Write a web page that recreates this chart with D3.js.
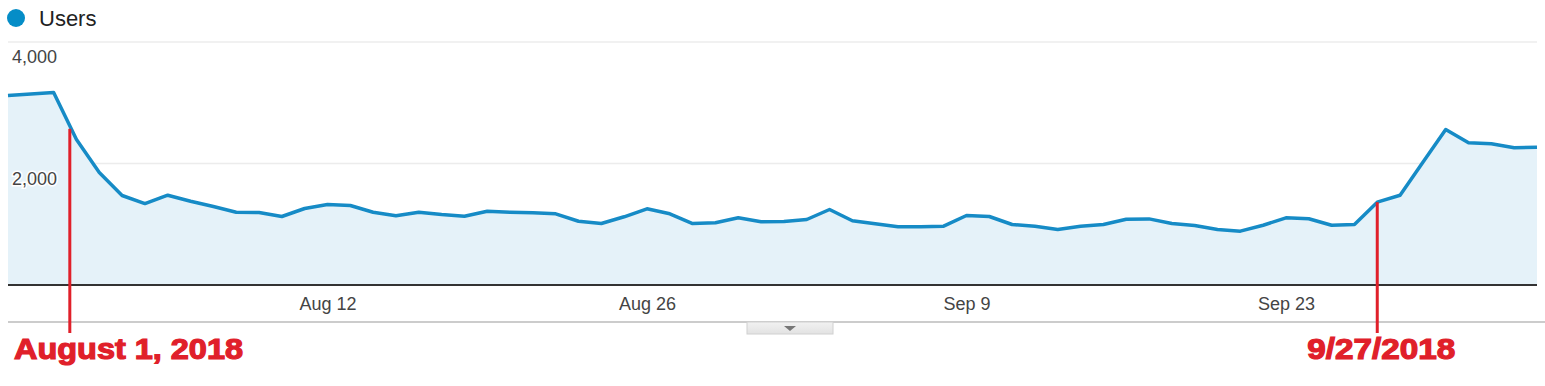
<!DOCTYPE html>
<html>
<head>
<meta charset="utf-8">
<script src="https://cdn.jsdelivr.net/npm/d3@7"></script>
<style>
  body { margin: 0; background: #fff; }
  svg { display: block; font-family: "Liberation Sans", Arial, sans-serif; }
</style>
</head>
<body>
<div id="chart"></div>
<script>
// Set up conventions
let width = 1545;
let height = 386;
let margin = ({top: 42, right: 8, bottom: 101, left: 8});

// daily users, Jul 29 2018 -> Oct 4 2018
let startDate = new Date(2018, 6, 29);
let users = [
    3119, 3144, 3169,
    2395, 1852, 1473, 1341, 1478, 1379, 1292, 1198, 1193, 1128, 1259, 1325, 1309, 1198,
    1140, 1198, 1160, 1132, 1215, 1198, 1188, 1172, 1050, 1012, 1123, 1254, 1172, 1012,
    1024, 1106, 1040,
    1045, 1078, 1243, 1057, 1007, 958, 958, 968, 1144, 1128, 996, 968, 914, 968, 996,
    1083, 1088, 1012, 979, 914, 886, 984, 1106, 1090, 984, 996, 1363, 1478, 2020, 2560,
    2341, 2324, 2258, 2268
];
let seriesName = "Users";
let yTicks = [2000, 4000];
let xTickDates = [new Date(2018, 7, 12), new Date(2018, 7, 26), new Date(2018, 8, 9), new Date(2018, 8, 23)];

// red annotations
let noteLabels = ["August 1, 2018", "9/27/2018"];
let noteDates = [new Date(2018, 6, 31, 17), new Date(2018, 8, 27)];

let data = users.map((v, i) => ({date: d3.timeDay.offset(startDate, i), value: v}));

let svg = d3.select("#chart")
    .append("svg")
    .attr("width", width)
    .attr("height", height);

let xScale = d3.scaleTime()
    .domain(d3.extent(data, d => d.date))
    .range([margin.left, width - margin.right]);

let yScale = d3.scaleLinear()
    .domain([0, 4000])
    .range([height - margin.bottom, margin.top]);

let fmt = d3.format(",");

// legend
svg.append("circle")
    .attr("cx", 16).attr("cy", 18).attr("r", 9)
    .attr("fill", "#058dc7");
svg.append("text")
    .attr("x", 39).attr("y", 26)
    .attr("font-size", 22)
    .attr("fill", "#222")
    .text(seriesName);

// gridlines
svg.append("g")
    .selectAll("line")
    .data(yTicks)
    .enter()
    .append("line")
    .attr("x1", margin.left)
    .attr("x2", width - margin.right)
    .attr("y1", d => yScale(d))
    .attr("y2", d => yScale(d))
    .attr("stroke", "#ececec")
    .attr("stroke-width", 1.5);

// area + line
let area = d3.area()
    .x(d => xScale(d.date))
    .y0(yScale(0))
    .y1(d => yScale(d.value));

let line = d3.line()
    .x(d => xScale(d.date))
    .y(d => yScale(d.value));

svg.append("path")
    .datum(data)
    .attr("d", area)
    .attr("fill", "#e5f2f9");

svg.append("path")
    .datum(data)
    .attr("d", line)
    .attr("fill", "none")
    .attr("stroke", "#168bc6")
    .attr("stroke-width", 3.5)
    .attr("stroke-linejoin", "round");

// y labels (inside the plot, with white halo)
svg.append("g")
    .selectAll("text")
    .data(yTicks)
    .enter()
    .append("text")
    .attr("x", 12)
    .attr("y", d => yScale(d) + 21)
    .attr("font-size", 18)
    .attr("fill", "#444")
    .attr("stroke", "#fff")
    .attr("stroke-width", 3)
    .attr("paint-order", "stroke")
    .text(d => fmt(d));

// x axis baseline
svg.append("line")
    .attr("x1", margin.left)
    .attr("x2", width - margin.right)
    .attr("y1", yScale(0))
    .attr("y2", yScale(0))
    .attr("stroke", "#333")
    .attr("stroke-width", 2);

let xAxis = d3.axisBottom(xScale)
    .tickValues(xTickDates)
    .tickFormat(d3.timeFormat("%b %-d"))
    .tickSize(0)
    .tickPadding(12);

let gx = svg.append("g")
    .attr("transform", "translate(0," + yScale(0) + ")")
    .call(xAxis);
gx.select(".domain").remove();
gx.selectAll("text")
    .attr("font-family", "Liberation Sans, Arial, sans-serif")
    .attr("font-size", 18)
    .attr("fill", "#444");

// bottom separator and tab
svg.append("line")
    .attr("x1", 8).attr("x2", width)
    .attr("y1", 322).attr("y2", 322)
    .attr("stroke", "#cccccc")
    .attr("stroke-width", 2);

let grad = svg.append("defs").append("linearGradient")
    .attr("id", "tab").attr("x1", 0).attr("x2", 0).attr("y1", 0).attr("y2", 1);
grad.append("stop").attr("offset", "0%").attr("stop-color", "#f2f2f2");
grad.append("stop").attr("offset", "100%").attr("stop-color", "#e2e2e2");

svg.append("rect")
    .attr("x", 747).attr("y", 322).attr("width", 86).attr("height", 12)
    .attr("fill", "url(#tab)")
    .attr("stroke", "#d0d0d0");
svg.append("path")
    .attr("d", "M784,326 L796,326 L790,331 Z")
    .attr("fill", "#777");

// annotations
let notes = noteLabels.map((t, i) => {
    let dt = noteDates[i];
    let j = d3.bisector(d => d.date).left(data, dt);
    let a = data[Math.max(j - 1, 0)], b = data[j];
    let f = b.date - a.date ? (dt - a.date) / (b.date - a.date) : 0;
    return {label: t, date: dt, value: a.value + f * (b.value - a.value)};
});

svg.append("g")
    .selectAll("line")
    .data(notes)
    .enter()
    .append("line")
    .attr("x1", d => xScale(d.date))
    .attr("x2", d => xScale(d.date))
    .attr("y1", (d, i) => yScale(d.value) + (i === 0 ? 3 : 0))
    .attr("y2", 333)
    .attr("stroke", "#e0202a")
    .attr("stroke-width", 3);

svg.append("g")
    .selectAll("text")
    .data(notes)
    .enter()
    .append("text")
    .attr("x", (d, i) => i === 0 ? 14 : xScale(d.date) + 4)
    .attr("y", 359)
    .attr("text-anchor", (d, i) => i === 0 ? "start" : "middle")
    .attr("font-size", 29)
    .attr("font-weight", "bold")
    .attr("textLength", (d, i) => i === 0 ? 229 : 148)
    .attr("lengthAdjust", "spacingAndGlyphs")
    .attr("fill", "#e0202a")
    .attr("stroke", "#e0202a")
    .attr("stroke-width", 1.2)
    .text(d => d.label);
</script>
</body>
</html>
